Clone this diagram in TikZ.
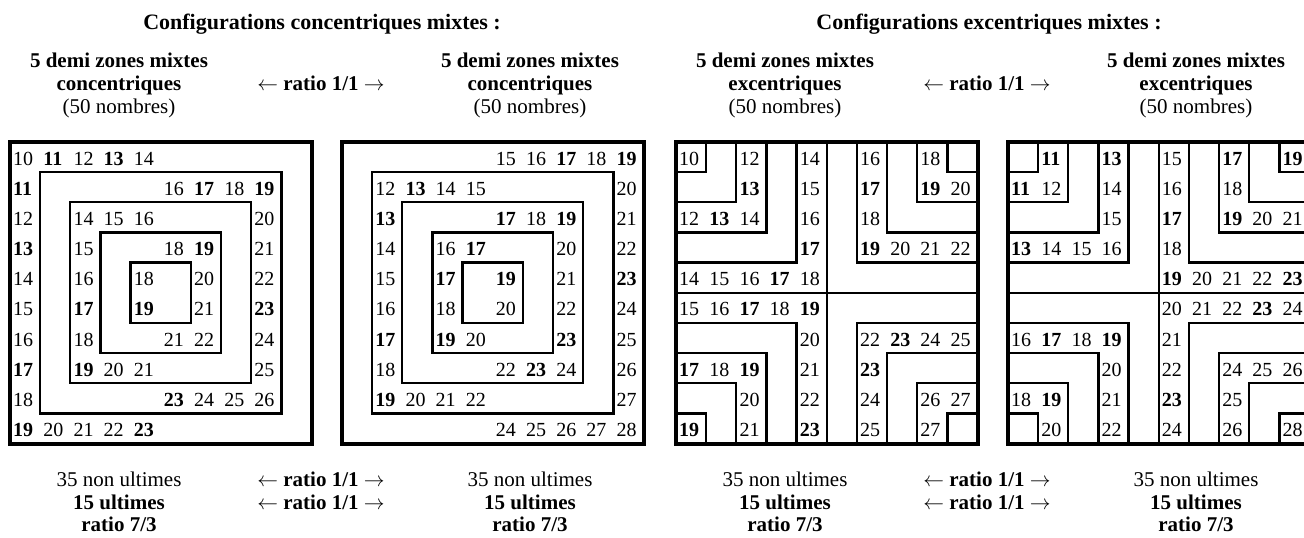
\documentclass[tikz,border=0pt]{standalone}
\usepackage{fontspec}
\setmainfont{Liberation Serif}
\newcommand\sz{\fontsize{20}{24}\selectfont}
\newcommand\hsz{\fontsize{21}{25}\selectfont}
\newcommand\nb[1]{\pgfmathtruncatemacro\isprime{(#1==11)||(#1==13)||(#1==17)||(#1==19)||(#1==23)}%
\ifnum\isprime=1 \textbf{#1}\else #1\fi}
\tikzset{frame/.style={line width=4pt},
wall/.style={line width=2.3pt},
num/.style={anchor=west,inner sep=0pt,font=\sz},
hd/.style={anchor=base,inner sep=0pt,font=\hsz\bfseries},
tx/.style={anchor=base,inner sep=0pt,font=\hsz},
grid/.style={x=30.15pt,y=-30.15pt}}

\begin{document}
\begin{tikzpicture}[x=1pt,y=-1pt]
\useasboundingbox (0,0) rectangle (1304,538);
\clip (0,0) rectangle (1304,538);
% titles and headers
\node[hd,font=\fontsize{22}{26}\selectfont\bfseries] (tconc) at (322,29) {Configurations concentriques mixtes :};
\node[hd,font=\fontsize{22}{26}\selectfont\bfseries] (texc) at (989,29) {Configurations excentriques mixtes :};
\foreach \gx/\kind/\id in {0/concentriques/c,666/excentriques/e}{
  \node[hd] (\id la) at (119+\gx,67) {5 demi zones mixtes};
  \node[hd] (\id lb) at (119+\gx,90) {\kind};
  \node[tx] (\id lc) at (119+\gx,113) {(50 nombres)};
  \node[hd] (\id m) at (321+\gx,90) {$\leftarrow$ ratio 1/1 $\rightarrow$};
  \node[hd] (\id ra) at (530+\gx,67) {5 demi zones mixtes};
  \node[hd] (\id rb) at (530+\gx,90) {\kind};
  \node[tx] (\id rc) at (530+\gx,113) {(50 nombres)};
  % bottom
  \node[tx] (\id ba) at (119+\gx,486) {35 non ultimes};
  \node[hd] (\id bb) at (119+\gx,509) {15 ultimes};
  \node[hd] (\id bc) at (119+\gx,531) {ratio 7/3};
  \node[hd] (\id bm) at (321+\gx,486) {$\leftarrow$ ratio 1/1 $\rightarrow$};
  \node[hd] (\id bn) at (321+\gx,509) {$\leftarrow$ ratio 1/1 $\rightarrow$};
  \node[tx] (\id bd) at (530+\gx,486) {35 non ultimes};
  \node[hd] (\id be) at (530+\gx,509) {15 ultimes};
  \node[hd] (\id bf) at (530+\gx,531) {ratio 7/3};
}
% concentric, first
\begin{scope}[shift={(10,142)},grid]
\foreach \k in {1,...,4} \draw[wall] (\k,\k) rectangle (10-\k,10-\k);
\draw[frame] (0,0) rectangle (10,10);
\foreach \c/\r/\val in {0/0/10,1/0/11,2/0/12,3/0/13,4/0/14,
  0/1/11,5/1/16,6/1/17,7/1/18,8/1/19, 0/2/12,2/2/14,3/2/15,4/2/16,8/2/20,
  0/3/13,2/3/15,5/3/18,6/3/19,8/3/21, 0/4/14,2/4/16,4/4/18,6/4/20,8/4/22,
  0/5/15,2/5/17,4/5/19,6/5/21,8/5/23, 0/6/16,2/6/18,5/6/21,6/6/22,8/6/24,
  0/7/17,2/7/19,3/7/20,4/7/21,8/7/25, 0/8/18,5/8/23,6/8/24,7/8/25,8/8/26,
  0/9/19,1/9/20,2/9/21,3/9/22,4/9/23}
  \node[num] (a-\c-\r) at (\c+.1,\r+.55) {\nb{\val}};
\end{scope}
% concentric, second
\begin{scope}[shift={(342,142)},grid]
\foreach \k in {1,...,4} \draw[wall] (\k,\k) rectangle (10-\k,10-\k);
\draw[frame] (0,0) rectangle (10,10);
\foreach \c/\r/\val in {5/0/15,6/0/16,7/0/17,8/0/18,9/0/19,
  1/1/12,2/1/13,3/1/14,4/1/15,9/1/20, 1/2/13,5/2/17,6/2/18,7/2/19,9/2/21,
  1/3/14,3/3/16,4/3/17,7/3/20,9/3/22, 1/4/15,3/4/17,5/4/19,7/4/21,9/4/23,
  1/5/16,3/5/18,5/5/20,7/5/22,9/5/24, 1/6/17,3/6/19,4/6/20,7/6/23,9/6/25,
  1/7/18,5/7/22,6/7/23,7/7/24,9/7/26, 1/8/19,2/8/20,3/8/21,4/8/22,9/8/27,
  5/9/24,6/9/25,7/9/26,8/9/27,9/9/28}
  \node[num] (b-\c-\r) at (\c+.1,\r+.55) {\nb{\val}};
\end{scope}
% excentric, first
\begin{scope}[shift={(676,142)},grid]
\draw[wall] (5,0) -- (5,10);
\draw[wall] (0,5) -- (10,5);
\foreach \k in {1,...,4}{
  \draw[wall] (\k,0) |- (0,\k);
  \draw[wall] (10-\k,0) |- (10,\k);
  \draw[wall] (0,10-\k) -| (\k,10);
  \draw[wall] (10,10-\k) -| (10-\k,10);
}
\draw[frame] (0,0) rectangle (10,10);
\foreach \c/\r/\val in {0/0/10,2/0/12,4/0/14,2/1/13,4/1/15,0/2/12,1/2/13,2/2/14,
  4/2/16,4/3/17,0/4/14,1/4/15,2/4/16,3/4/17,4/4/18,
  8/0/18,8/1/19,9/1/20,6/0/16,6/1/17,6/2/18,6/3/19,7/3/20,8/3/21,9/3/22,
  0/5/15,1/5/16,2/5/17,3/5/18,4/5/19,4/6/20,0/7/17,1/7/18,2/7/19,4/7/21,
  2/8/20,4/8/22,0/9/19,2/9/21,4/9/23,
  6/6/22,7/6/23,8/6/24,9/6/25,6/7/23,6/8/24,8/8/26,9/8/27,6/9/25,8/9/27}
  \node[num] (c-\c-\r) at (\c+.1,\r+.55) {\nb{\val}};
\end{scope}
% excentric, second
\begin{scope}[shift={(1008,142)},grid]
\draw[wall] (5,0) -- (5,10);
\draw[wall] (0,5) -- (10,5);
\foreach \k in {1,...,4}{
  \draw[wall] (\k,0) |- (0,\k);
  \draw[wall] (10-\k,0) |- (10,\k);
  \draw[wall] (0,10-\k) -| (\k,10);
  \draw[wall] (10,10-\k) -| (10-\k,10);
}
\draw[frame] (0,0) rectangle (10,10);
\foreach \c/\r/\val in {1/0/11,3/0/13,0/1/11,1/1/12,3/1/14,3/2/15,0/3/13,1/3/14,2/3/15,3/3/16,
  5/0/15,7/0/17,9/0/19,5/1/16,7/1/18,5/2/17,7/2/19,8/2/20,9/2/21,5/3/18,
  5/4/19,6/4/20,7/4/21,8/4/22,9/4/23,
  0/6/16,1/6/17,2/6/18,3/6/19,3/7/20,0/8/18,1/8/19,3/8/21,1/9/20,3/9/22,
  5/5/20,6/5/21,7/5/22,8/5/23,9/5/24,5/6/21,5/7/22,5/8/23,5/9/24,
  7/7/24,8/7/25,9/7/26,7/8/25,7/9/26,9/9/28}
  \node[num] (d-\c-\r) at (\c+.1,\r+.55) {\nb{\val}};
\end{scope}
\end{tikzpicture}
\end{document}
